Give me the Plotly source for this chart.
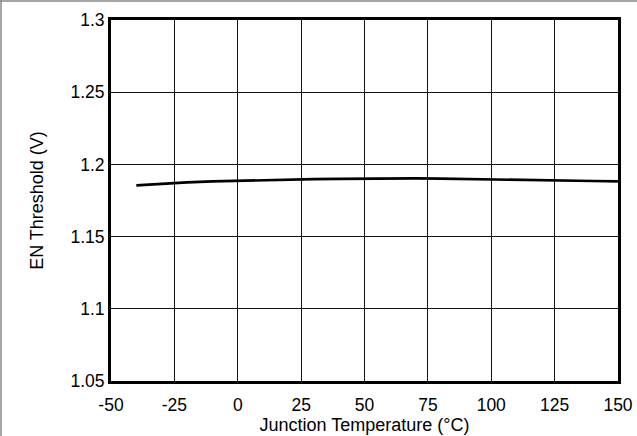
import plotly.graph_objects as go

# Data
temperature_c = [-40, -30, -20, -10, 0, 10, 20, 30, 40, 50, 60, 70, 80, 90, 100, 110, 120, 130, 140, 150]
en_threshold_v = [1.1855, 1.1868, 1.1876, 1.1882, 1.1887, 1.1891, 1.1895, 1.1898, 1.1900, 1.1902,
                  1.1902, 1.1903, 1.1901, 1.1899, 1.1897, 1.1894, 1.1891, 1.1888, 1.1885, 1.1882]

x_ticks = [-50, -25, 0, 25, 50, 75, 100, 125, 150]
x_ticktext = ["-50", "-25", "0", "25", "50", "75", "100", "125", "150"]
y_ticks = [1.05, 1.1, 1.15, 1.2, 1.25, 1.3]
y_ticktext = ["1.05", "1.1", "1.15", "1.2", "1.25", "1.3"]

font_family = "Liberation Sans, Arial, sans-serif"

fig = go.Figure()
fig.add_trace(go.Scatter(
    x=temperature_c, y=en_threshold_v, mode="lines",
    line=dict(color="black", width=2.7), showlegend=False,
    hoverinfo="skip",
))

W, H = 637, 436
L, R, T, B = 111, 19, 20, 55
pw, ph = W - L - R, H - T - B

fig.update_layout(
    width=W, height=H, autosize=False,
    margin=dict(l=L, r=R, t=T, b=B, pad=0, autoexpand=False),
    paper_bgcolor="white", plot_bgcolor="white",
    font=dict(family=font_family, size=17.5, color="black"),
    xaxis=dict(
        range=[-50, 150], tickvals=x_ticks, ticktext=x_ticktext,
        showgrid=True, gridcolor="#111111", gridwidth=1,
        showline=True, linecolor="black", linewidth=3, mirror=True,
        ticks="", zeroline=False, automargin=False, ticklabelstandoff=6,
        title=dict(text="Junction Temperature (°C)", font=dict(size=18), standoff=0),
        tickfont=dict(size=17.5),
    ),
    yaxis=dict(
        range=[1.05, 1.3], tickvals=y_ticks, ticktext=y_ticktext,
        showgrid=True, gridcolor="#111111", gridwidth=1,
        showline=True, linecolor="black", linewidth=3, mirror=True,
        ticks="", zeroline=False, automargin=False,
        title=dict(text="EN Threshold (V)", font=dict(size=18), standoff=23),
        tickfont=dict(size=17.5),
    ),
    shapes=[
        dict(type="line", xref="paper", yref="paper",
             x0=(0 - L) / pw, x1=(W - L) / pw,
             y0=1 + (T - 1) / ph, y1=1 + (T - 1) / ph,
             line=dict(color="#888888", width=1.5)),
        dict(type="line", xref="paper", yref="paper",
             x0=(1 - L) / pw, x1=(1 - L) / pw,
             y0=1 + T / ph, y1=-B / ph,
             line=dict(color="#888888", width=1.5)),
    ],
)

fig.write_html(
    "out.html",
    config={"displayModeBar": False, "responsive": False},
    post_script="document.body.style.margin='0';document.body.style.padding='0';document.body.style.overflow='hidden';",
)
